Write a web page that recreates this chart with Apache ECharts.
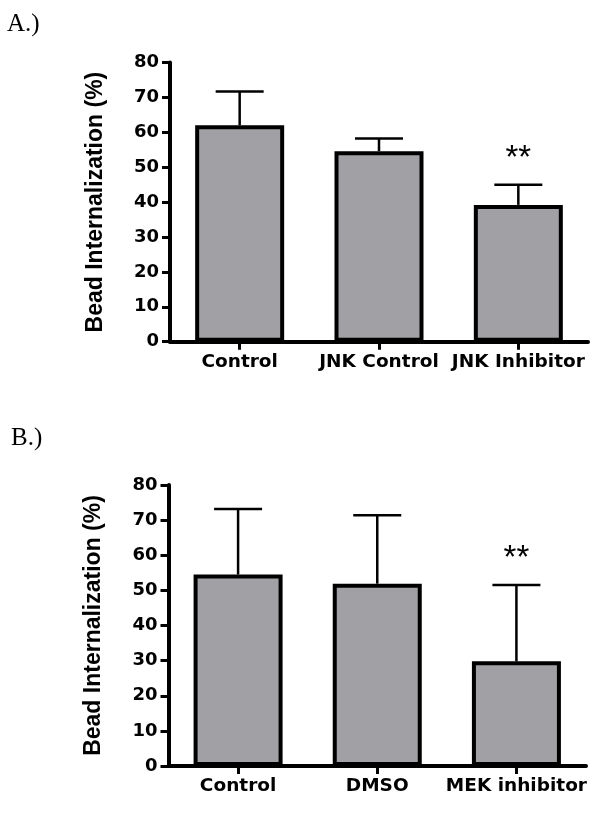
<!DOCTYPE html>
<html>
<head>
<meta charset="utf-8">
<script src="https://cdn.jsdelivr.net/npm/echarts@6/dist/echarts.min.js"></script>
<style>
html,body{margin:0;padding:0;background:#fff;}
#chart{width:600px;height:823px;}
</style>
</head>
<body>
<div id="chart"></div>
<script>
// ---- data ----
const panelLabels = ['A.)', 'B.)'];
const yAxisTitle = 'Bead Internalization (%)';
const yMin = 0, yMax = 80, yInterval = 10;

const categoriesA = ['Control', 'JNK Control', 'JNK Inhibitor'];
const meansA = [62.0, 54.6, 39.2];
const sdA = [9.7, 3.6, 5.8];
const sigA = ['', '', '**'];

const categoriesB = ['Control', 'DMSO', 'MEK inhibitor'];
const meansB = [54.5, 51.9, 29.8];
const sdB = [18.7, 19.5, 21.7];
const sigB = ['', '', '**'];

// ---- styles ----
const barFill = '#a1a0a5';
const tickFont = { fontFamily: 'DejaVu Sans', fontWeight: 'bold', fontSize: 18, color: '#000' };
const catFont = { fontFamily: 'DejaVu Sans', fontWeight: 'bold', fontSize: 18.5, color: '#000' };

function makeYAxis(gridIndex) {
  return {
    gridIndex: gridIndex, type: 'value', min: yMin, max: yMax, interval: yInterval,
    name: yAxisTitle, nameLocation: 'middle', nameRotate: 90, nameGap: 63,
    nameTextStyle: { fontFamily: 'Liberation Sans', fontWeight: 'bold', fontSize: 23, color: '#000' },
    axisLine: { show: true, lineStyle: { color: '#000', width: 4 } },
    axisTick: { show: true, length: 8, lineStyle: { color: '#000', width: 3 } },
    axisLabel: Object.assign({ margin: 11 }, tickFont),
    splitLine: { show: false }
  };
}
function makeXAxis(gridIndex, cats) {
  return {
    gridIndex: gridIndex, type: 'category', data: cats,
    axisLine: { show: true, lineStyle: { color: '#000', width: 4 } },
    axisTick: { show: true, alignWithLabel: true, length: 8, lineStyle: { color: '#000', width: 3 } },
    axisLabel: Object.assign({ margin: 11, interval: 0 }, catFont),
    splitLine: { show: false }
  };
}
function makeBar(idx, means) {
  return {
    type: 'bar', xAxisIndex: idx, yAxisIndex: idx, data: means, barWidth: 89,
    itemStyle: { color: barFill, borderColor: '#000', borderWidth: 4 },
    z: 2
  };
}
function makeErr(idx, means, sds, sigs) {
  return {
    type: 'custom', xAxisIndex: idx, yAxisIndex: idx, z: 3,
    data: means.map((m, i) => [i, m, sds[i]]),
    renderItem: function (params, api) {
      const i = api.value(0);
      const base = api.coord([i, api.value(1)]);
      const top = api.coord([i, api.value(1) + api.value(2)]);
      const ls = { stroke: '#000', lineWidth: 2.5 };
      const children = [
        { type: 'line', shape: { x1: base[0], y1: base[1], x2: top[0], y2: top[1] }, style: ls },
        { type: 'line', shape: { x1: top[0] - 24, y1: top[1], x2: top[0] + 24, y2: top[1] }, style: ls }
      ];
      const s = sigs[params.dataIndex];
      if (s) {
        children.push({ type: 'text', x: top[0], y: top[1] - 26,
          style: { text: s, fill: '#000', font: '33px "Liberation Sans"', align: 'center', verticalAlign: 'middle' } });
      }
      return { type: 'group', children: children };
    }
  };
}

const chart = echarts.init(document.getElementById('chart'), null, { renderer: 'canvas' });
chart.setOption({
  backgroundColor: '#fff',
  animation: false,
  grid: [
    { left: 170, right: 12, top: 62.5, height: 279.2 },
    { left: 168.5, right: 14, top: 485, height: 281 }
  ],
  xAxis: [makeXAxis(0, categoriesA), makeXAxis(1, categoriesB)],
  yAxis: [makeYAxis(0), makeYAxis(1)],
  series: [
    makeBar(0, meansA), makeErr(0, meansA, sdA, sigA),
    makeBar(1, meansB), makeErr(1, meansB, sdB, sigB)
  ],
  graphic: [
    { type: 'text', left: 7, top: 12, style: { text: panelLabels[0], font: '25px "Liberation Serif"', fill: '#000' } },
    { type: 'text', left: 11, top: 426, style: { text: panelLabels[1], font: '25px "Liberation Serif"', fill: '#000' } }
  ]
});
</script>
</body>
</html>
